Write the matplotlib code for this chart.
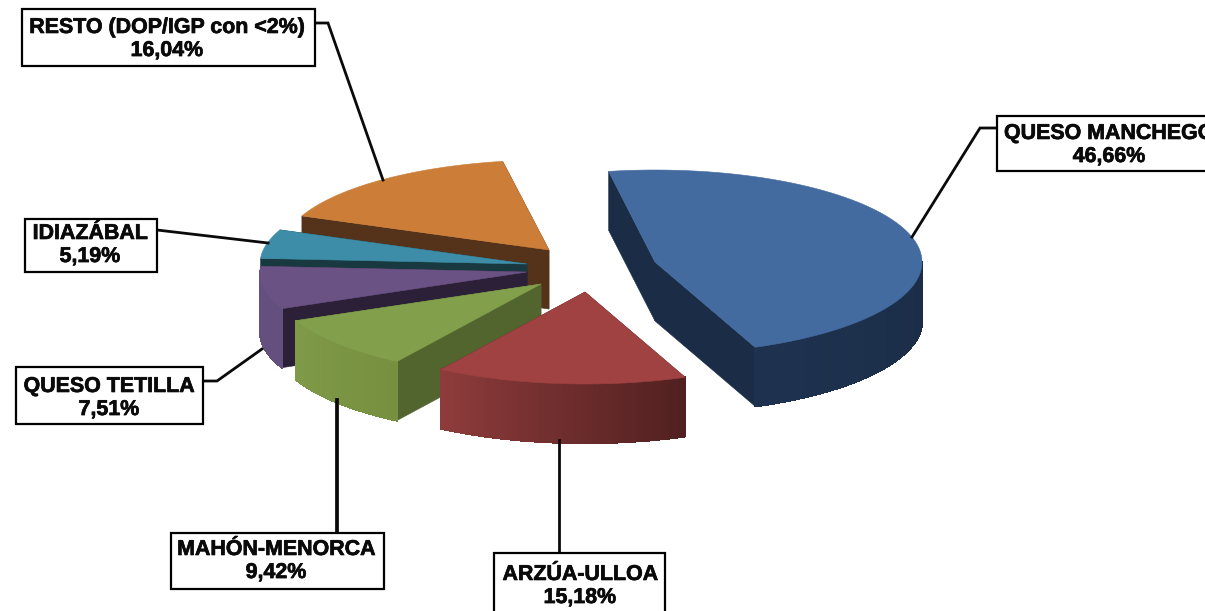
import numpy as np
import matplotlib
matplotlib.use("Agg")
import matplotlib.pyplot as plt
import matplotlib.patheffects as pe
from matplotlib.collections import PolyCollection
from matplotlib.patches import Rectangle

# ---- data ----
categories = ["QUESO MANCHEGO", "ARZÚA-ULLOA", "MAHÓN-MENORCA",
              "QUESO TETILLA", "IDIAZÁBAL", "RESTO (DOP/IGP con <2%)"]
shares = [46.66, 15.18, 9.42, 7.51, 5.19, 16.04]

# ---- styles / layout ----
top_colors = ["#436B9F", "#9F4241", "#829F4C", "#6B5285", "#3E8DA8", "#CC7E38"]
cut_colors = ["#1B2D46", "#5A2323", "#53652E", "#2B2038", "#18393F", "#55331A"]
wall_from = ["#1E3250", "#8E3C3B", "#7F9A49", "#64507F", "#18393F", "#55331A"]
wall_to = ["#1B2D46", "#512020", "#76903F", "#64507F", "#18393F", "#55331A"]
apex = [(655, 262), (585, 292), (541, 284), (527, 272), (527, 264), (549, 250)]
radius_y = [92, 92, 92, 92, 90, 90]
draw_order = [5, 4, 3, 2, 1, 0]
box_px = [(997, 116, 1230, 171), (494, 553, 665, 630), (171, 533, 384, 589),
          (16, 367, 203, 424), (25, 219, 157, 272), (22, 9, 315, 66)]
text_y = [145, 586, 561, 398, 245, 39]
text_x = [1109, 580, 276, 109, 90, 167]
leaders = [[(997, 128), (980, 128), (912, 237)],
           [(559, 553), (559, 440)],
           [(337, 533), (337, 400)],
           [(203, 381), (217, 381), (262, 349)],
           [(157, 230), (268, 243)],
           [(315, 23), (328, 23), (383, 180)]]
leader_lw = [2.0, 2.0, 2.7, 2.0, 2.0, 2.0]
RX, DEPTH = 267, 59
START_DEG = 100

plt.rcParams["font.family"] = ["Liberation Sans", "DejaVu Sans"]
fig = plt.figure(figsize=(12.05, 6.11), dpi=100)
ax = fig.add_axes([0, 0, 1, 1])
ax.set_xlim(0, 1205)
ax.set_ylim(611, 0)
ax.axis("off")

sweeps = np.array(shares) / np.sum(shares) * 360
ends = START_DEG - np.cumsum(sweeps)
starts = ends + sweeps


def rim(i, a0, a1, n=80):
    t = np.radians(np.linspace(a0, a1, n))
    return np.column_stack([apex[i][0] + RX * np.cos(t),
                            apex[i][1] - radius_y[i] * np.sin(t)])


def shade(c0, c1, n):
    c0 = np.array(matplotlib.colors.to_rgb(c0))
    c1 = np.array(matplotlib.colors.to_rgb(c1))
    return [tuple(c0 + (c1 - c0) * f) for f in np.linspace(0, 1, n)]


for layer, i in enumerate(draw_order):
    base = 1 + layer
    a0, a1 = starts[i], ends[i]
    arc = rim(i, a0, a1)
    down = np.array([0, DEPTH])
    c = np.array(apex[i], float)
    for p in (arc[0], arc[-1]):
        q = np.array([c, p, p + down, c + down])
        ax.fill(q[:, 0], q[:, 1], color=cut_colors[i], lw=0.4, zorder=base)
    # outer wall: only the part of the rim facing the viewer
    sin_vals = np.sin(np.radians(np.linspace(a0, a1, 80)))
    front = arc[sin_vals <= 0.02]
    if len(front) > 1:
        front = front[np.argsort(front[:, 0])]
        quads = [np.array([front[k], front[k + 1], front[k + 1] + down, front[k] + down])
                 for k in range(len(front) - 1)]
        cols = shade(wall_from[i], wall_to[i], len(quads))
        ax.add_collection(PolyCollection(quads, facecolors=cols, edgecolors=cols,
                                         linewidths=1.0, antialiaseds=False,
                                         zorder=base + 0.1))
    top = np.vstack([c, arc])
    ax.fill(top[:, 0], top[:, 1], color=top_colors[i], lw=0.4, zorder=base + 0.2)

for i, name in enumerate(categories):
    pts = np.array(leaders[i])
    ax.plot(pts[:, 0], pts[:, 1], color="#0A0A0A", lw=leader_lw[i], zorder=12,
            solid_joinstyle="miter")
    x0, y0, x1, y1 = box_px[i]
    ax.add_patch(Rectangle((x0, y0), x1 - x0, y1 - y0, fc="white", ec="black",
                           lw=1.6, zorder=13))
    label = f"{name}\n{shares[i]:.2f}".replace(".", ",") + "%"
    t = ax.text(text_x[i], text_y[i], label, ha="center", va="center", ma="center",
                fontsize=15.4, fontweight="bold", color="#0A0A0A", linespacing=1.27,
                zorder=14)
    t.set_path_effects([pe.withStroke(linewidth=0.5, foreground="#0A0A0A")])

fig.savefig("out.png", dpi=100, facecolor="white")
